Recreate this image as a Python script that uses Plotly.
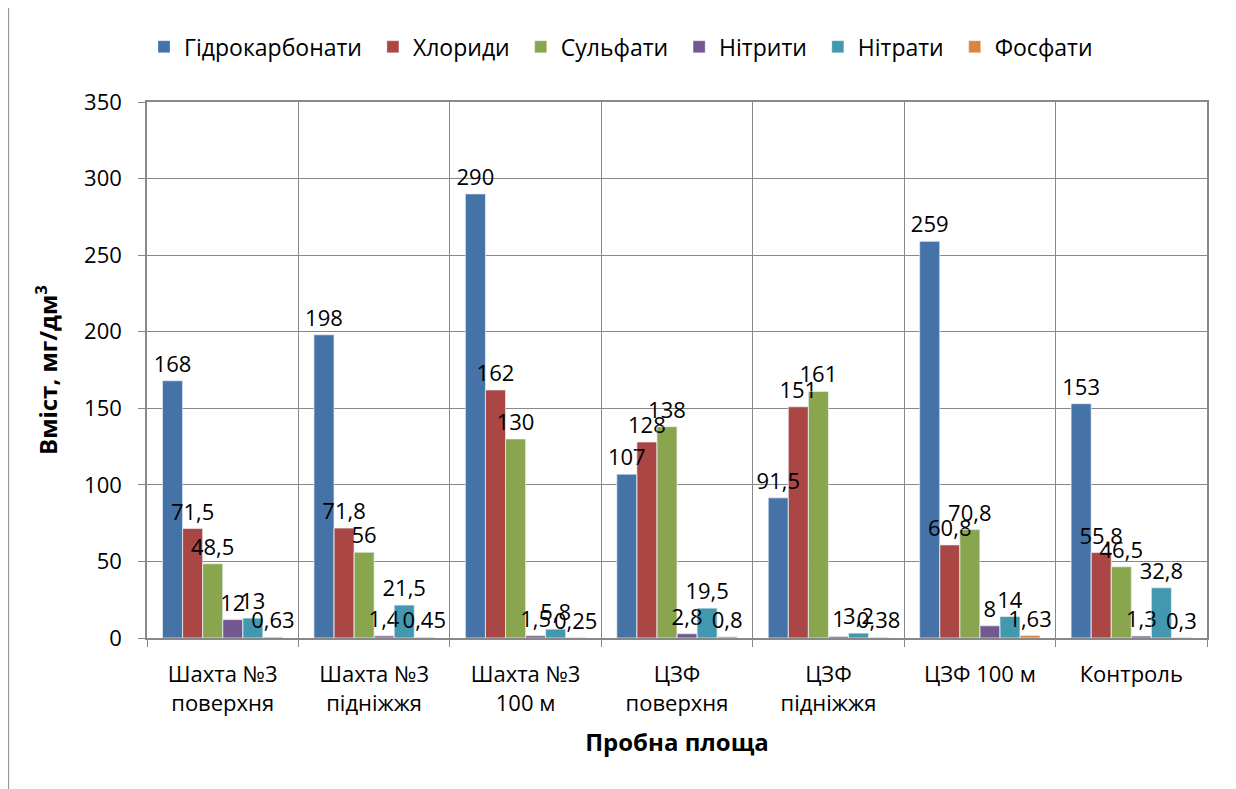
import plotly.graph_objects as go

# categories (x axis) and series
SITES = [
    "Шахта №3<br>поверхня",
    "Шахта №3<br>підніжжя",
    "Шахта №3<br>100 м",
    "ЦЗФ<br>поверхня",
    "ЦЗФ<br>підніжжя",
    "ЦЗФ 100 м",
    "Контроль",
]

HYDROCARB = [168, 198, 290, 107, 91.5, 259, 153]
CHLORIDES = [71.5, 71.8, 162, 128, 151, 60.8, 55.8]
SULFATES  = [48.5, 56, 130, 138, 161, 70.8, 46.5]
NITRITES  = [12, 1.4, 1.5, 2.8, 1, 8, 1.3]
NITRATES  = [13, 21.5, 5.8, 19.5, 3.2, 14, 32.8]
PHOSPH    = [0.63, 0.45, 0.25, 0.8, 0.38, 1.63, 0.3]

SERIES = [
    ("Гідрокарбонати", HYDROCARB, "#4572A7"),
    ("Хлориди",        CHLORIDES, "#AA4643"),
    ("Сульфати",       SULFATES,  "#89A54E"),
    ("Нітрити",        NITRITES,  "#71588F"),
    ("Нітрати",        NITRATES,  "#4198AF"),
    ("Фосфати",        PHOSPH,    "#DB843D"),
]

FONT = "Open Sans, sans-serif"
GRID = "#888888"
PAD = "\u00a0"


def fmt(v):
    return f"{v:g}".replace(".", ",")


fig = go.Figure()
# bars first
for name, vals, color in SERIES:
    fig.add_trace(go.Bar(
        name=name + PAD,
        x=SITES, y=vals,
        offsetgroup=name,
        marker=dict(color=color, line=dict(color="rgba(255,255,255,0.6)", width=0.5)),
    ))
# then the value labels on top of every bar (same slots, transparent bars)
for name, vals, color in SERIES:
    fig.add_trace(go.Bar(
        x=SITES, y=vals,
        offsetgroup=name,
        showlegend=False,
        marker=dict(color="rgba(0,0,0,0)"),
        text=[fmt(v) for v in vals],
        textposition="outside",
        textfont=dict(family=FONT, size=22, color="#000000"),
        constraintext="none",
        cliponaxis=False,
        hoverinfo="skip",
    ))

# page body has an 8px margin, so the figure starts at (8, 8) on screen
fig.update_layout(
    width=1236, height=789,
    barmode="group",
    bargap=0.205, bargroupgap=0,
    margin=dict(l=139, r=37, t=94, b=159),
    paper_bgcolor="#FFFFFF",
    plot_bgcolor="#FFFFFF",
    font=dict(family=FONT, size=22, color="#000000"),
    legend=dict(
        orientation="h",
        x=0.45, xanchor="center",
        y=1.103, yanchor="middle",
        font=dict(family=FONT, size=23),
        traceorder="normal",
    ),
    xaxis=dict(
        tickson="boundaries",
        showgrid=True, gridcolor=GRID, gridwidth=1,
        showline=True, linecolor=GRID, linewidth=1.5,
        ticks="outside", ticklen=7, tickcolor=GRID,
        tickfont=dict(family=FONT, size=22),
        ticklabelstandoff=16,
        title=dict(text="<b>Пробна площа</b>", font=dict(family=FONT, size=24), standoff=18),
        mirror=True,
    ),
    yaxis=dict(
        range=[0, 350], dtick=50,
        showgrid=True, gridcolor=GRID, gridwidth=1,
        showline=True, linecolor=GRID, linewidth=1.5,
        ticks="outside", ticklen=7, tickcolor=GRID,
        tickfont=dict(family=FONT, size=22),
        ticklabelstandoff=12,
        zeroline=False,
        title=dict(text="<b>Вміст, мг/дм<sup>3</sup></b>", font=dict(family=FONT, size=24), standoff=20),
        mirror=True,
    ),
    shapes=[
        dict(type="line", xref="paper", yref="paper",
             x0=-0.131, x1=1.05, y0=1.181, y1=1.181,
             line=dict(color="#999999", width=2)),
        dict(type="line", xref="paper", yref="paper",
             x0=-0.131, x1=-0.131, y0=1.181, y1=-0.3,
             line=dict(color="#999999", width=2)),
    ],
)

fig.write_html("out.html")
